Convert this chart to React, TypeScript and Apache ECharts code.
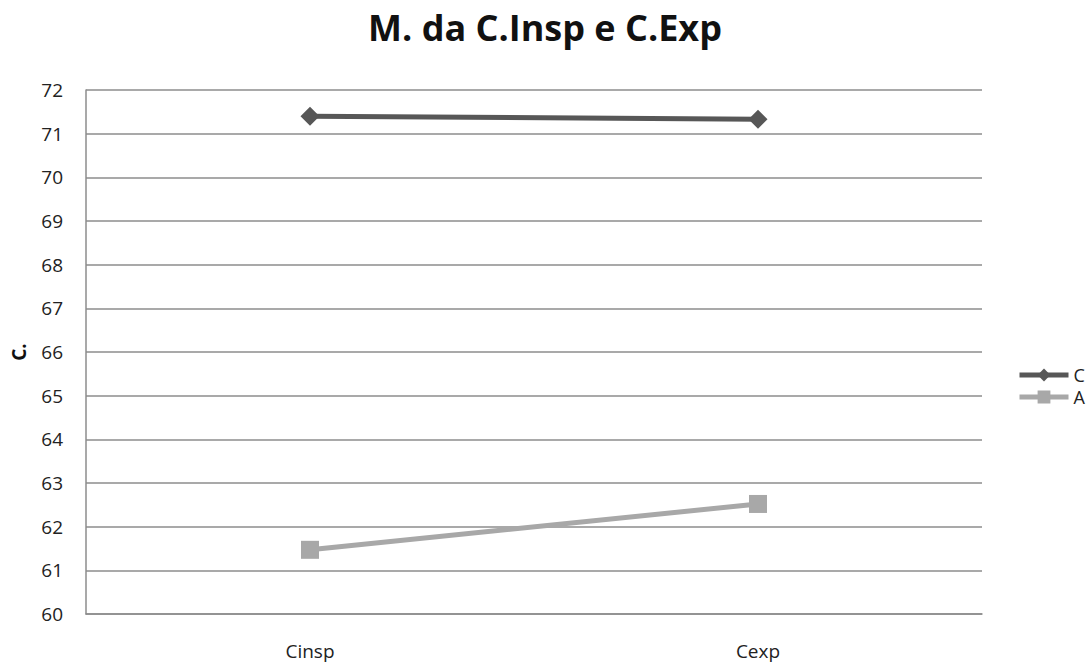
import React, { useEffect, useRef } from "react";
import * as echarts from "echarts";

const categories = ["Cinsp", "Cexp"];
const seriesC = [71.4, 71.33];
const seriesA = [61.47, 62.52];
const yMin = 60;
const yMax = 72;

export default function App() {
  const ref = useRef<HTMLDivElement>(null);
  useEffect(() => {
    const chart = echarts.init(ref.current!, null, { renderer: "svg" });
    const font = "'Open Sans', 'Noto Sans', sans-serif";
    chart.setOption({
      animation: false,
      backgroundColor: "#ffffff",
      title: {
        text: "M. da C.Insp e C.Exp",
        left: 540,
        textAlign: "center",
        top: 4,
        textStyle: { fontFamily: font, fontSize: 36, fontWeight: "bold", color: "#111" },
      },
      grid: { left: 86, top: 90, right: 109, bottom: 50, outerBoundsMode: "none", containLabel: false },
      legend: {
        orient: "vertical",
        left: 1012,
        top: 361,
        itemWidth: 49,
        itemHeight: 16,
        itemGap: 4,
        lineStyle: { width: 5 },
        textStyle: { fontFamily: font, fontSize: 18, lineHeight: 18, color: "#222" },
        data: ["C", "A"],
      },
      xAxis: {
        type: "category",
        data: categories,
        boundaryGap: true,
        axisLine: { show: true, lineStyle: { color: "#8c8c8c", width: 1.5 } },
        axisTick: { show: false },
        axisLabel: { fontFamily: font, fontSize: 19, color: "#222", margin: 27 },
      },
      yAxis: {
        type: "value",
        min: yMin,
        max: yMax,
        interval: 1,
        name: "C.",
        nameLocation: "middle",
        nameGap: 58,
        nameRotate: 90,
        nameTextStyle: { fontFamily: font, fontSize: 19, fontWeight: "bold", color: "#111" },
        axisLine: { show: true, lineStyle: { color: "#8c8c8c", width: 1.5 } },
        axisTick: { show: false },
        axisLabel: { fontFamily: font, fontSize: 19, color: "#222", margin: 23 },
        splitLine: { show: true, lineStyle: { color: "#8c8c8c", width: 1.5 } },
      },
      series: [
        {
          name: "C",
          type: "line",
          data: seriesC,
          symbol: "diamond",
          symbolSize: 19,
          lineStyle: { color: "#575757", width: 5 },
          itemStyle: { color: "#575757" },
        },
        {
          name: "A",
          type: "line",
          data: seriesA,
          symbol: "rect",
          symbolSize: 18,
          lineStyle: { color: "#a8a8a8", width: 5 },
          itemStyle: { color: "#a8a8a8" },
        },
      ],
    });
    return () => chart.dispose();
  }, []);
  return (
    <div
      ref={ref}
      style={{ position: "fixed", left: 0, top: 0, width: 1091, height: 664 }}
    />
  );
}
